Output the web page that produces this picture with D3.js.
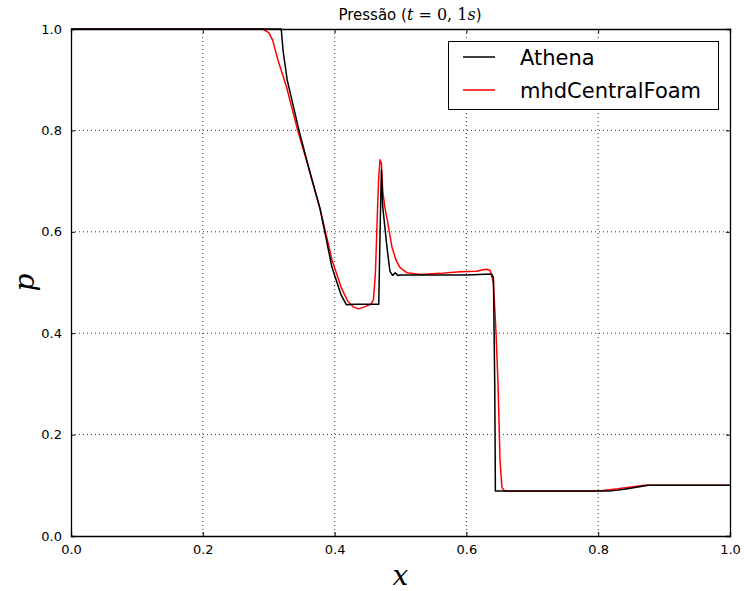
<!DOCTYPE html>
<html>
<head>
<meta charset="utf-8">
<script src="https://cdn.jsdelivr.net/npm/d3@7"></script>
<style>
  body { margin: 0; background: #fff; }
  svg { display: block; }
</style>
</head>
<body>
<svg id="chart" width="744" height="591"></svg>
<script>
// tick values
const xTicks = [0.0, 0.2, 0.4, 0.6, 0.8, 1.0];
const yTicks = [0.0, 0.2, 0.4, 0.6, 0.8, 1.0];

// Athena solution (x, p)
const athenaX = [0, 0.319, 0.322, 0.328, 0.337, 0.346, 0.362, 0.378, 0.396, 0.410, 0.418, 0.430, 0.467, 0.469, 0.471, 0.473, 0.477, 0.480, 0.484, 0.488, 0.492, 0.496, 0.500, 0.600, 0.638, 0.641, 0.643, 0.644, 0.820, 0.840, 0.876, 1.0];
const athenaP = [1.0, 1.0, 0.955, 0.90, 0.85, 0.80, 0.72, 0.645, 0.53, 0.475, 0.456, 0.457, 0.457, 0.60, 0.722, 0.65, 0.60, 0.564, 0.522, 0.514, 0.519, 0.514, 0.515, 0.515, 0.517, 0.51, 0.30, 0.089, 0.089, 0.092, 0.10, 0.10];

// mhdCentralFoam solution (x, p)
const foamX = [0, 0.291, 0.300, 0.306, 0.314, 0.327, 0.344, 0.362, 0.378, 0.396, 0.410, 0.420, 0.428, 0.436, 0.445, 0.455, 0.459, 0.462, 0.465, 0.467, 0.469, 0.471, 0.473, 0.476, 0.480, 0.487, 0.493, 0.499, 0.510, 0.530, 0.560, 0.590, 0.615, 0.630, 0.636, 0.641, 0.645, 0.648, 0.651, 0.654, 0.658, 0.800, 0.830, 0.870, 1.0];
const foamP = [1.0, 1.0, 0.993, 0.978, 0.939, 0.886, 0.80, 0.72, 0.645, 0.545, 0.49, 0.463, 0.452, 0.448, 0.452, 0.457, 0.466, 0.52, 0.64, 0.71, 0.742, 0.735, 0.682, 0.65, 0.623, 0.57, 0.545, 0.53, 0.519, 0.516, 0.518, 0.521, 0.522, 0.526, 0.524, 0.50, 0.40, 0.30, 0.15, 0.095, 0.089, 0.089, 0.093, 0.10, 0.10];

const series = [
  { name: "Athena", color: "#000000", xs: athenaX, ps: athenaP },
  { name: "mhdCentralFoam", color: "#ff0000", xs: foamX, ps: foamP }
];

const margin = { left: 71, top: 29, right: 14, bottom: 55 };
const W = 744, H = 591;
const innerW = W - margin.left - margin.right;
const innerH = H - margin.top - margin.bottom;

const svg = d3.select("#chart");
const g = svg.append("g").attr("transform", `translate(${margin.left},${margin.top})`);

const x = d3.scaleLinear().domain([0, 1]).range([0, innerW]);
const y = d3.scaleLinear().domain([0, 1]).range([innerH, 0]);

// grid lines
g.append("g").selectAll("line.gx")
  .data(xTicks.slice(1, -1))
  .join("line")
  .attr("x1", d => x(d)).attr("x2", d => x(d))
  .attr("y1", 0).attr("y2", innerH)
  .attr("stroke", "#000").attr("stroke-width", 0.8)
  .attr("stroke-dasharray", "1,3");

g.append("g").selectAll("line.gy")
  .data(yTicks.slice(1, -1))
  .join("line")
  .attr("y1", d => y(d)).attr("y2", d => y(d))
  .attr("x1", 0).attr("x2", innerW)
  .attr("stroke", "#000").attr("stroke-width", 0.8)
  .attr("stroke-dasharray", "1,3");

// data lines
const line = d3.line()
  .x(d => x(d[0]))
  .y(d => y(d[1]));

g.append("defs").append("clipPath").attr("id", "clip")
  .append("rect").attr("x", 0).attr("y", -1).attr("width", innerW).attr("height", innerH + 2);

series.slice().reverse().forEach(s => {
  const pts = s.xs.map((v, i) => [v, s.ps[i]]);
  g.append("path")
    .datum(pts)
    .attr("clip-path", "url(#clip)")
    .attr("fill", "none")
    .attr("stroke", s.color)
    .attr("stroke-width", 1.5)
    .attr("stroke-linejoin", "round")
    .attr("d", line);
});

// axes, ticks pointing inward on all sides
const fmt = d3.format(".1f");
const axBottom = g.append("g").attr("transform", `translate(0,${innerH})`)
  .call(d3.axisBottom(x).tickValues(xTicks).tickFormat(fmt).tickSize(-4).tickPadding(9));
const axTop = g.append("g")
  .call(d3.axisTop(x).tickValues(xTicks).tickFormat("").tickSize(-4));
const axLeft = g.append("g")
  .call(d3.axisLeft(y).tickValues(yTicks).tickFormat(fmt).tickSize(-4).tickPadding(9));
const axRight = g.append("g").attr("transform", `translate(${innerW},0)`)
  .call(d3.axisRight(y).tickValues(yTicks).tickFormat("").tickSize(-4));

[axBottom, axTop, axLeft, axRight].forEach(a => {
  a.select(".domain").attr("stroke", "#000").attr("stroke-width", 1.3);
  a.selectAll(".tick line").attr("stroke", "#000").attr("stroke-width", 1);
  a.selectAll("text").attr("font-family", "DejaVu Sans").attr("font-size", 13).attr("fill", "#000");
});

// title
const title = svg.append("text")
  .attr("x", 410).attr("y", 20)
  .attr("text-anchor", "middle")
  .attr("font-family", "DejaVu Sans").attr("font-size", 15);
title.append("tspan").text("Pressão (");
title.append("tspan").attr("font-family", "DejaVu Serif").attr("font-style", "italic").attr("font-size", 16).text("t");
title.append("tspan").attr("font-family", "DejaVu Serif").attr("font-size", 16).text(" = 0, 1");
title.append("tspan").attr("font-family", "DejaVu Serif").attr("font-style", "italic").attr("font-size", 16).text("s");
title.append("tspan").text(")");

// axis labels
svg.append("text")
  .attr("x", margin.left + innerW / 2).attr("y", 585)
  .attr("text-anchor", "middle")
  .attr("font-family", "DejaVu Serif").attr("font-style", "italic").attr("font-size", 28)
  .text("x");

svg.append("text")
  .attr("transform", `translate(34,${margin.top + innerH / 2}) rotate(-90)`)
  .attr("text-anchor", "middle")
  .attr("font-family", "DejaVu Serif").attr("font-style", "italic").attr("font-size", 28)
  .text("p");

// legend
const legend = svg.append("g");
legend.append("rect")
  .attr("x", 448.5).attr("y", 41.5).attr("width", 270).attr("height", 68)
  .attr("fill", "#fff").attr("stroke", "#000").attr("stroke-width", 1);
series.forEach((s, i) => {
  const ly = 57 + i * 33;
  legend.append("line")
    .attr("x1", 463).attr("x2", 495).attr("y1", ly).attr("y2", ly)
    .attr("stroke", s.color).attr("stroke-width", 1.5);
  legend.append("text")
    .attr("x", 520).attr("y", ly + 8)
    .attr("font-family", "DejaVu Sans").attr("font-size", 21)
    .text(s.name);
});
</script>
</body>
</html>
